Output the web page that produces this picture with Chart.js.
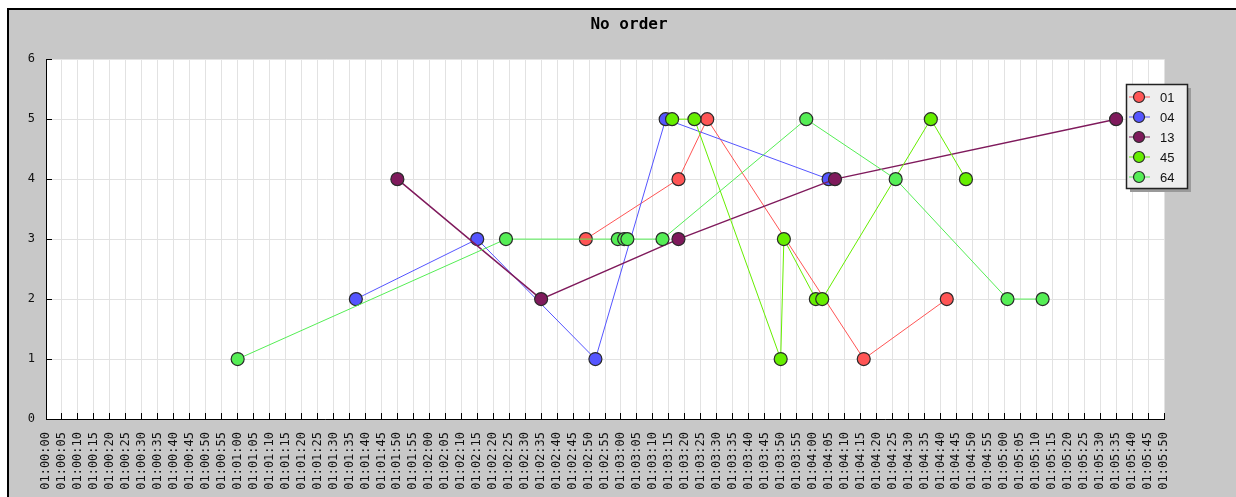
<!DOCTYPE html>
<html>
<head>
<meta charset="utf-8">
<script src="https://cdn.jsdelivr.net/npm/chart.js@4/dist/chart.umd.min.js"></script>
<style>
body{margin:0;background:#fff;}
canvas{display:block;}
</style>
</head>
<body>
<canvas id="grafico" width="1236" height="497"></canvas>
<script>

// series names and colours
const seriesNames = ["01","04","13","45","64"];
const seriesColors = ["#ff5555","#5555ff","#7f1a5c","#66ee00","#55ee55"];
const lineWidths = [1,1,1.5,1,1];

// time of each point (hh:mm:ss) and its value
const times01 = ["01:02:49","01:03:18","01:03:27","01:04:16","01:04:42"];
const values01 = [3,4,5,1,2];

const times04 = ["01:01:37","01:02:15","01:02:52","01:03:14","01:04:05"];
const values04 = [2,3,1,5,4];

const times13 = ["01:01:50","01:02:35","01:03:18","01:04:07","01:05:35"];
const values13 = [4,2,3,4,5];

const times45 = ["01:03:16","01:03:23","01:03:50","01:03:51","01:04:01","01:04:03","01:04:37","01:04:48"];
const values45 = [5,5,1,3,2,2,5,4];

const times64 = ["01:01:00","01:02:24","01:02:59","01:03:01","01:03:02","01:03:13","01:03:58","01:04:26","01:05:01","01:05:12"];
const values64 = [1,3,3,3,3,3,5,4,2,2];

// axis range
const xStart = "01:00:00";
const xEnd = "01:05:50";
const xStep = 5;
const yMax = 6;

function toSec(t){
  const p = t.split(":").map(Number);
  return p[0]*3600 + p[1]*60 + p[2];
}
function toTime(s){
  const h = Math.floor(s/3600), m = Math.floor((s%3600)/60), x = s%60;
  return [h,m,x].map(v=>String(v).padStart(2,"0")).join(":");
}

const allTimes = [times01,times04,times13,times45,times64];
const allValues = [values01,values04,values13,values45,values64];

const datasets = seriesNames.map((name,i)=>({
  label:name,
  data:allTimes[i].map((t,j)=>({x:toSec(t),y:allValues[i][j]})),
  borderColor:seriesColors[i],
  backgroundColor:seriesColors[i],
  pointBackgroundColor:seriesColors[i],
  pointBorderColor:"#2a2a2a",
  pointBorderWidth:1.2,
  pointRadius:6.5,
  borderWidth:lineWidths[i],
  tension:0,
  order:seriesNames.length-i
}));

// grey frame behind everything
const framePlugin = {
  id:"frame",
  beforeDraw(chart){
    const ctx = chart.ctx;
    const a = chart.chartArea;
    ctx.save();
    ctx.fillStyle = "#fff";
    ctx.fillRect(0,0,chart.width,chart.height);
    ctx.fillStyle = "#c8c8c8";
    ctx.fillRect(8,9,chart.width,chart.height);
    ctx.strokeStyle = "#000";
    ctx.lineWidth = 2;
    ctx.beginPath();
    ctx.moveTo(8,chart.height);
    ctx.lineTo(8,9);
    ctx.lineTo(chart.width,9);
    ctx.stroke();
    ctx.fillStyle = "#fff";
    ctx.fillRect(a.left,a.top,a.right-a.left,a.bottom-a.top);
    ctx.restore();
  }
};

// boxed legend with shadow
const legendPlugin = {
  id:"boxLegend",
  afterDraw(chart){
    const ctx = chart.ctx;
    const bx = 1126, by = 84, bw = 61, bh = 104;
    ctx.save();
    ctx.fillStyle = "#9a9a9a";
    ctx.fillRect(bx+4,by+4,bw,bh);
    ctx.fillStyle = "#eeeeee";
    ctx.fillRect(bx,by,bw,bh);
    ctx.strokeStyle = "#222";
    ctx.lineWidth = 1.5;
    ctx.strokeRect(bx+0.5,by+0.5,bw,bh);
    chart.data.datasets.forEach((ds,i)=>{
      const cy = by + 13 + i*20;
      ctx.strokeStyle = ds.borderColor;
      ctx.lineWidth = 1;
      ctx.beginPath();
      ctx.moveTo(bx+3,cy);
      ctx.lineTo(bx+24,cy);
      ctx.stroke();
      ctx.beginPath();
      ctx.arc(bx+13,cy,5.5,0,Math.PI*2);
      ctx.fillStyle = ds.pointBackgroundColor;
      ctx.fill();
      ctx.strokeStyle = "#2a2a2a";
      ctx.lineWidth = 1.2;
      ctx.stroke();
      ctx.fillStyle = "#111";
      ctx.font = "13px 'Liberation Sans'";
      ctx.textBaseline = "middle";
      ctx.fillText(ds.label,bx+34,cy+1);
    });
    ctx.restore();
  }
};

new Chart(
  document.getElementById("grafico"),
  {
    type:"line",
    data:{datasets:datasets},
    plugins:[framePlugin,legendPlugin],
    options:{
      responsive:false,
      animation:false,
      layout:{padding:{left:22,right:0,top:0,bottom:0}},
      plugins:{
        legend:{display:false},
        tooltip:{enabled:false},
        title:{
          display:true,
          text:"No order",
          color:"#000",
          font:{family:"'DejaVu Sans Mono'",size:16,weight:"bold"},
          padding:{top:15,bottom:25}
        }
      },
      scales:{
        x:{
          type:"linear",
          min:toSec(xStart),
          max:toSec(xEnd),
          afterFit(scale){scale.height = 78;},
          ticks:{
            stepSize:xStep,
            autoSkip:false,
            maxTicksLimit:200,
            maxRotation:90,
            minRotation:90,
            padding:19,
            color:"#111",
            font:{family:"'DejaVu Sans Mono'",size:12},
            callback:v=>toTime(v)
          },
          grid:{color:"#e2e2e2",lineWidth:1,tickLength:-6,tickColor:"#000",tickWidth:1},
          border:{color:"#000",width:1}
        },
        y:{
          min:0,
          max:yMax,
          afterFit(scale){scale.width = 24;},
          ticks:{
            stepSize:1,
            padding:17,
            color:"#111",
            font:{family:"'DejaVu Sans Mono'",size:12}
          },
          grid:{color:"#e2e2e2",lineWidth:1,tickLength:-6,tickColor:"#000",tickWidth:1},
          border:{color:"#000",width:1}
        },
        // empty right margin so the title centres over the whole panel
        y2:{
          position:"right",
          afterFit(scale){scale.width = 72;},
          ticks:{display:false},
          grid:{display:false},
          border:{display:false}
        }
      }
    }
  }
);

</script>
</body>
</html>
